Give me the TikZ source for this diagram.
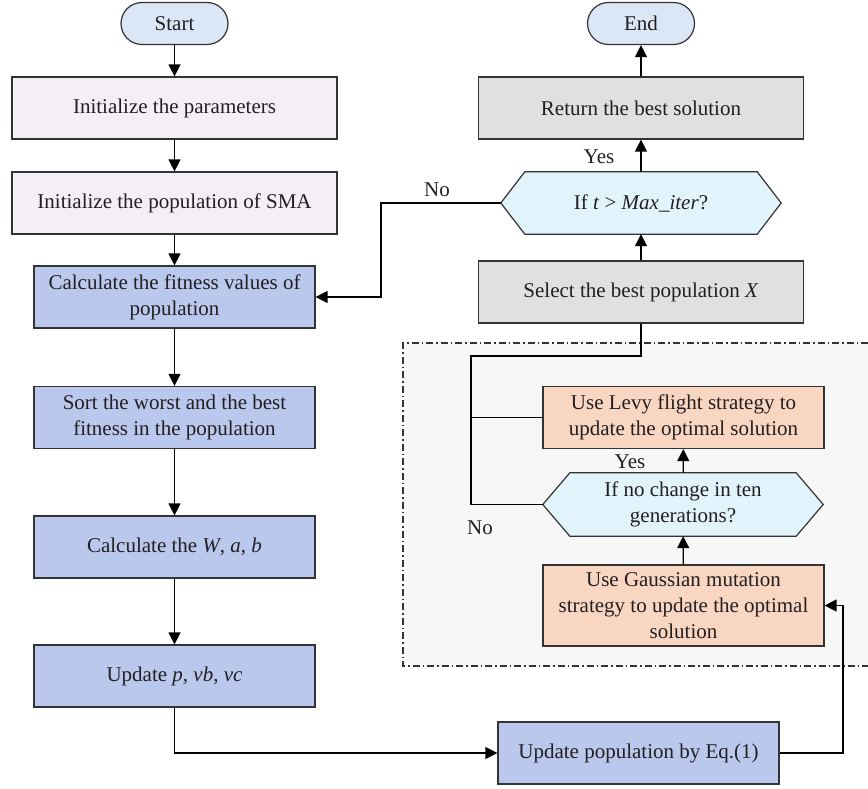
\documentclass[tikz,border=0pt]{standalone}
\usepackage{fontspec}
\setmainfont{Liberation Serif}
\usetikzlibrary{arrows.meta,calc}
\pgfdeclarelayer{back}
\pgfdeclarelayer{background}
\pgfsetlayers{back,background,main}
\definecolor{txt}{HTML}{231F20}
\definecolor{edge}{HTML}{333333}
\definecolor{termfill}{HTML}{DBE6F6}
\definecolor{initfill}{HTML}{F4EFF7}
\definecolor{bluefill}{HTML}{B9C8EC}
\definecolor{grayfill}{HTML}{E0E0E0}
\definecolor{hexfill}{HTML}{E2F4FB}
\definecolor{orfill}{HTML}{F9D6C2}
\definecolor{regionfill}{HTML}{F7F7F7}
\begin{document}
\begin{tikzpicture}[x=1pt,y=-1pt,
  every node/.style={font=\fontsize{21}{26}\selectfont, inner sep=0pt, align=center, text=txt},
  basebox/.style={draw=edge, line width=1.2pt, minimum height=62pt},
  term/.style={basebox, fill=termfill, rounded corners=21pt, minimum width=107pt, minimum height=42pt},
  initbox/.style={basebox, fill=initfill, minimum width=325pt},
  bluebox/.style={basebox, fill=bluefill, minimum width=281pt},
  graybox/.style={basebox, fill=grayfill, minimum width=325pt},
  orbox/.style={basebox, fill=orfill, minimum width=281pt},
  hextext/.style={minimum width=280pt, minimum height=62pt},
  hexdraw/.style={draw=edge, line width=1.2pt, fill=hexfill},
  conn/.style={draw=black, line width=1.3pt},
  arr/.style={conn, -{Triangle[length=12pt,width=12pt]}},
  lbl/.style={font=\fontsize{21}{26}\selectfont}
]
\useasboundingbox (0,0) rectangle (868,789);

% dashed region
\begin{pgfonlayer}{back}
  \fill[regionfill] (403,343) rectangle (868,666);
  \draw[draw=edge, line width=1.1pt, dash pattern=on 7pt off 3pt on 1.5pt off 3pt]
    (868,343) -- (403,343) -- (403,666) -- (868,666);
\end{pgfonlayer}

% left column
\node[term] (start) at (174.5,23.5) {Start};
\node[initbox] (init1) at (174.5,108) {Initialize the parameters};
\node[initbox] (init2) at (174.5,203) {Initialize the population of SMA};
\node[bluebox] (calc) at (174.5,297) {Calculate the fitness values of\\population};
\node[bluebox] (sort) at (174.5,417.5) {Sort the worst and the best\\fitness in the population};
\node[bluebox] (wab) at (174.5,547) {Calculate the \textit{W}, \textit{a}, \textit{b}};
\node[bluebox] (upd) at (174.5,676) {Update \textit{p}, \textit{vb}, \textit{vc}};
\node[bluebox] (eq) at (638.5,753) {Update population by Eq.(1)};

% right column
\node[term] (end) at (641,23.5) {End};
\node[graybox] (ret) at (641,108) {Return the best solution};
\node[hextext] (h1) at (641,203) {If \textit{t} > \textit{Max\_iter}?};
\node[graybox] (sel) at (641,292) {Select the best population \textit{X}};
\node[orbox] (levy) at (683.5,417.5) {Use Levy flight strategy to\\update the optimal solution};
\node[hextext, minimum height=63pt] (h2) at (683,504.5) {If no change in ten\\generations?};
\node[orbox, minimum height=81pt] (gauss) at (683.5,605.5) {Use Gaussian mutation\\strategy to update the optimal\\solution};

\begin{pgfonlayer}{background}
  \draw[hexdraw] (h1.west) -- ([xshift=24pt]h1.north west) -- ([xshift=-24pt]h1.north east)
    -- (h1.east) -- ([xshift=-24pt]h1.south east) -- ([xshift=24pt]h1.south west) -- cycle;
  \draw[hexdraw] (h2.west) -- ([xshift=27pt]h2.north west) -- ([xshift=-27pt]h2.north east)
    -- (h2.east) -- ([xshift=-27pt]h2.south east) -- ([xshift=27pt]h2.south west) -- cycle;
\end{pgfonlayer}

% connectors
\draw[arr] (start) -- (init1);
\draw[arr] (init1) -- (init2);
\draw[arr] (init2) -- (calc);
\draw[arr] (calc) -- (sort);
\draw[arr] (sort) -- (wab);
\draw[arr] (wab) -- (upd);
\draw[arr] (upd.south) |- (eq.west);
\coordinate (rt) at (843,753);
\draw[arr] (eq.east) -- (rt) |- (gauss.east);
\draw[arr] (gauss) -- (h2);
\draw[arr] (h2) -- (levy);
\node[lbl] (yes2) at (630,462) {Yes};
\coordinate (jn) at (471,356);
\draw[conn] (h2.west) -| (jn) -| (sel.south);
\draw[conn] (levy.west) -- (levy.west -| jn);
\node[lbl] (no2) at (480,528) {No};
\draw[arr] (sel) -- (h1);
\draw[arr] (h1) -- (ret);
\node[lbl] (yes1) at (599,157) {Yes};
\draw[arr] (ret) -- (end);
\coordinate (lt) at (381,203);
\draw[arr] (h1.west) -- (lt) |- (calc.east);
\node[lbl] (no1) at (437,190) {No};
\end{tikzpicture}
\end{document}
